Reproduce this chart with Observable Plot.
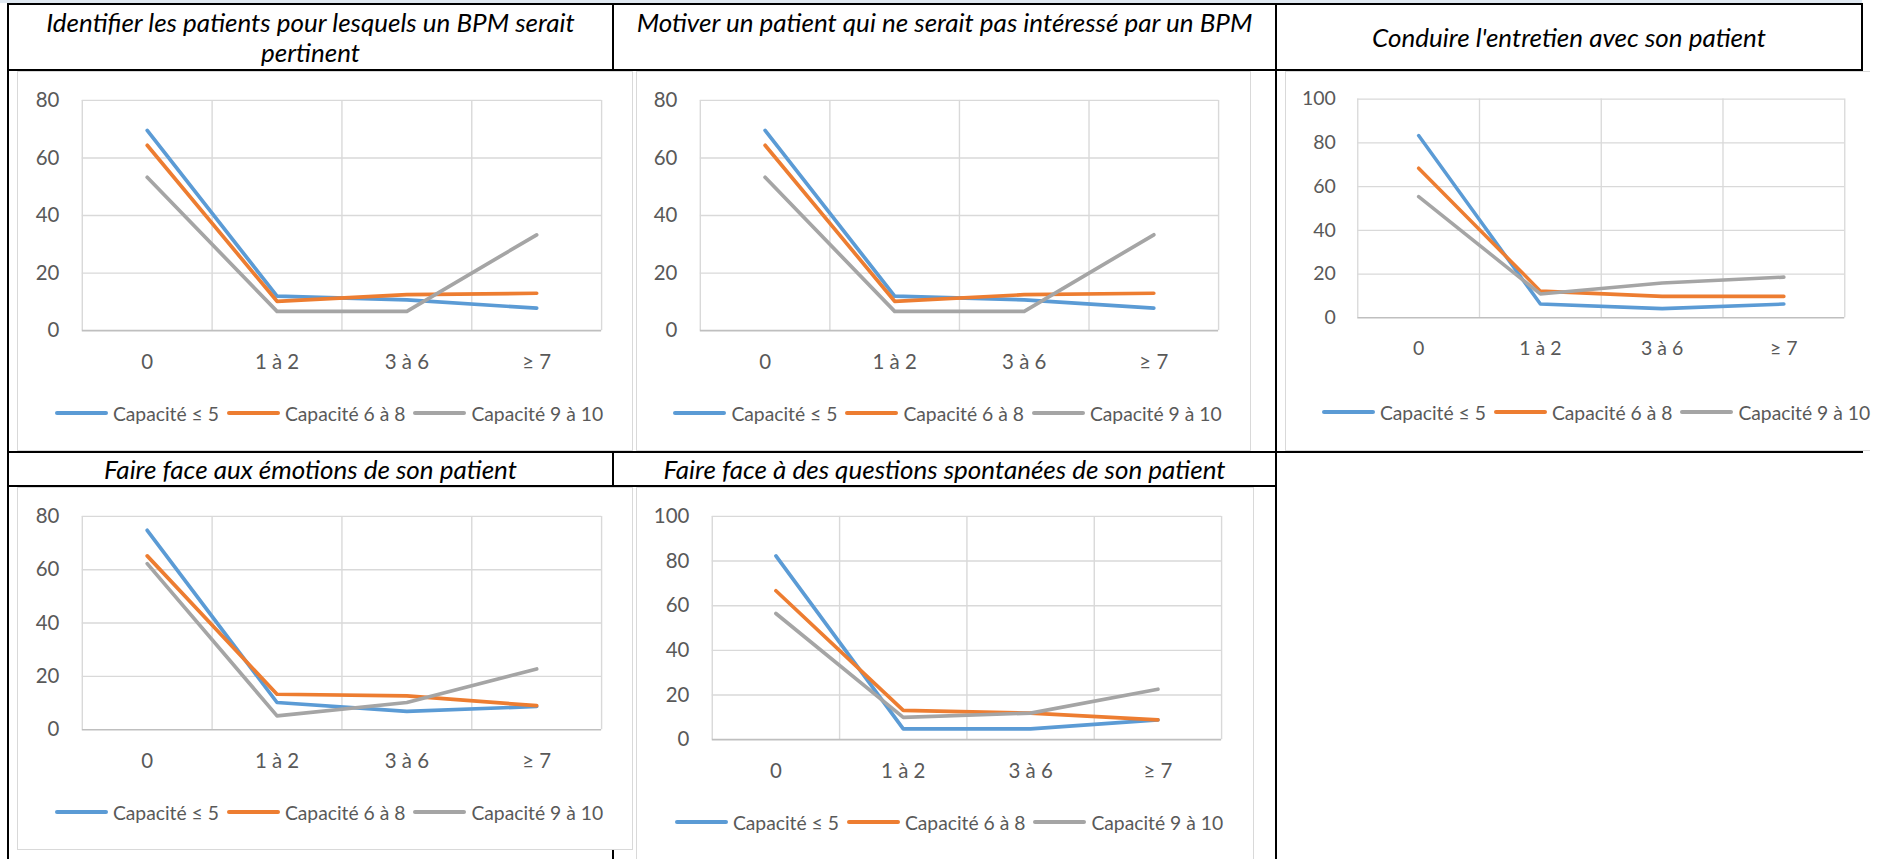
<!DOCTYPE html>
<html>
<head>
<meta charset="utf-8">
<script src="https://cdn.jsdelivr.net/npm/d3@7"></script>
<script src="https://cdn.jsdelivr.net/npm/@observablehq/plot@0.6"></script>
<style>
html, body { margin: 0; padding: 0; background: #fff; }
#page { position: relative; width: 1883px; height: 859px; overflow: hidden; background: #fff; font-family: Lato, "Open Sans", sans-serif; }
.ln { position: absolute; background: #000; }
.strip { position: absolute; background: #dfe8f1; }
.title { position: absolute; text-align: center; font-style: italic; color: #000; font-size: 26px; line-height: 30px; }
.box { position: absolute; background: #fff; border: 1px solid #d9d9d9; box-sizing: border-box; overflow: hidden; }
.box svg { position: absolute; left: -1px; top: -1px; }
.legend { position: absolute; height: 30px; display: flex; justify-content: center; align-items: center; white-space: nowrap; color: #595959; font-size: 19.3px; }
.item { display: flex; align-items: center; margin: 0 4px; }
.sw { display: inline-block; width: 53px; height: 4px; border-radius: 2px; margin-right: 5px; }
</style>
</head>
<body>
<div id="page"></div>
<script>
// ---------- data ----------
const categories = ["0", "1 à 2", "3 à 6", "≥ 7"];
const seriesNames = ["Capacité ≤ 5", "Capacité 6 à 8", "Capacité 9 à 10"];
const seriesColors = ["#5B9BD5", "#ED7D31", "#A5A5A5"];
const ticks80 = [0, 20, 40, 60, 80];
const ticks100 = [0, 20, 40, 60, 80, 100];

const titles = [
  "Identifier les patients pour lesquels un BPM serait pertinent",
  "Motiver un patient qui ne serait pas intéressé par un BPM",
  "Conduire l'entretien avec son patient",
  "Faire face aux émotions de son patient",
  "Faire face à des questions spontanées de son patient"
];

// Identifier les patients
const identifierLow  = [69.6, 12.0, 10.7, 7.8];
const identifierMid  = [64.4, 10.2, 12.5, 13.0];
const identifierHigh = [53.3, 6.7, 6.7, 33.3];
// Motiver un patient
const motiverLow  = [69.6, 12.0, 10.7, 7.8];
const motiverMid  = [64.4, 10.2, 12.5, 13.0];
const motiverHigh = [53.3, 6.7, 6.7, 33.3];
// Conduire l'entretien
const conduireLow  = [83.3, 6.3, 4.2, 6.3];
const conduireMid  = [68.4, 12.2, 9.8, 9.8];
const conduireHigh = [55.4, 10.9, 15.9, 18.6];
// Faire face aux émotions
const emotionsLow  = [74.8, 10.2, 6.9, 8.7];
const emotionsMid  = [65.2, 13.3, 12.7, 9.0];
const emotionsHigh = [62.3, 5.2, 10.2, 22.8];
// Faire face aux questions spontanées
const questionsLow  = [82.3, 4.8, 4.8, 8.9];
const questionsMid  = [66.7, 13.1, 11.9, 8.9];
const questionsHigh = [56.5, 10.0, 11.9, 22.6];

const chartSeries = [
  [identifierLow, identifierMid, identifierHigh],
  [motiverLow, motiverMid, motiverHigh],
  [conduireLow, conduireMid, conduireHigh],
  [emotionsLow, emotionsMid, emotionsHigh],
  [questionsLow, questionsMid, questionsHigh]
];
const chartTicks = [ticks80, ticks80, ticks100, ticks80, ticks100];

// ---------- layout ----------
const page = document.getElementById("page");
function el(cls, css, parent = page) {
  const d = document.createElement("div");
  d.className = cls;
  Object.assign(d.style, css);
  parent.appendChild(d);
  return d;
}
const px = v => v + "px";

// light strip + table borders
el("strip", {left: "0px", top: "0px", width: "1862px", height: "3px"});
const lines = [
  [8, 3, 1855, 2], [7, 3, 2, 856],
  [7, 69, 1856, 2], [7, 451, 1856, 2], [7, 485, 1270, 2],
  [612, 3, 2, 856], [1275, 3, 2, 856], [1861, 3, 2, 450]
];
for (const [l, t, w, h] of lines) el("ln", {left: px(l), top: px(t), width: px(w), height: px(h)});

// titles: [left, top, width]
const titlePos = [[12, 7, 597], [615, 7, 659], [1278, 22, 582], [10, 454, 601], [615, 454, 659]];
titles.forEach((t, i) => {
  const [l, tp, w] = titlePos[i];
  const d = el("title", {left: px(l), top: px(tp), width: px(w)});
  d.textContent = t;
});

// chart layouts: box [left, top, width, height], plot [l, t, r, b], full width
const layouts = [
  {box: [17, 71, 616, 380], full: 616, plot: [82, 100, 603, 331]},
  {box: [636, 71, 615, 380], full: 615, plot: [700, 100, 1220, 331]},
  {box: [1285, 71, 585, 380], full: 614, plot: [1361, 100, 1873, 330], noRight: true},
  {box: [17, 487, 616, 363], full: 616, plot: [82, 516, 603, 730]},
  {box: [636, 487, 618, 375], full: 618, plot: [712, 516, 1223, 740]}
];

layouts.forEach((L, k) => {
  const [bl, bt, bw, bh] = L.box;
  const [pl, pt, pr, pb] = L.plot;
  const box = el("box", {left: px(bl), top: px(bt), width: px(bw), height: px(bh)});
  if (L.noRight) box.style.borderRight = "none";

  const rows = [];
  chartSeries[k].forEach((vals, s) => vals.forEach((v, i) => rows.push({pos: i + 0.5, value: v, series: seriesNames[s]})));
  const ticks = chartTicks[k];
  const height = pb - bt + 48;

  const svg = Plot.plot({
    width: L.full,
    height,
    marginLeft: pl - bl,
    marginRight: L.full - (pr - bl),
    marginTop: pt - bt,
    marginBottom: height - (pb - bt),
    style: {fontFamily: "Lato, 'Open Sans', sans-serif", fontSize: "20.5px", color: "#595959", background: "transparent", overflow: "visible"},
    x: {domain: [0, categories.length], ticks: categories.map((c, i) => i + 0.5), tickFormat: v => categories[Math.round(v - 0.5)], tickSize: 0, tickPadding: 24, label: null},
    y: {domain: [0, ticks[ticks.length - 1]], ticks, tickSize: 0, tickPadding: 23, label: null},
    color: {domain: seriesNames, range: seriesColors},
    marks: [
      Plot.ruleY(ticks.slice(1), {stroke: "#d9d9d9", strokeWidth: 1.4}),
      Plot.ruleX(d3.range(categories.length + 1), {stroke: "#d9d9d9", strokeWidth: 1.4}),
      Plot.ruleY([0], {stroke: "#bfbfbf", strokeWidth: 1.6}),
      Plot.line(rows, {x: "pos", y: "value", z: "series", stroke: "series", strokeWidth: 3.7, strokeLinecap: "round", strokeLinejoin: "round"})
    ]
  });
  box.appendChild(svg);

  // legend placed on the page (above the box) so it is not clipped by the box
  const lg = el("legend", {left: px(bl + 4), top: px(pb + 82 - 15), width: px(L.full)});
  seriesNames.forEach((name, s) => {
    const it = document.createElement("div");
    it.className = "item";
    const sw = document.createElement("span");
    sw.className = "sw";
    sw.style.background = seriesColors[s];
    const tx = document.createElement("span");
    tx.textContent = name;
    it.appendChild(sw);
    it.appendChild(tx);
    lg.appendChild(it);
  });
});
</script>
</body>
</html>
